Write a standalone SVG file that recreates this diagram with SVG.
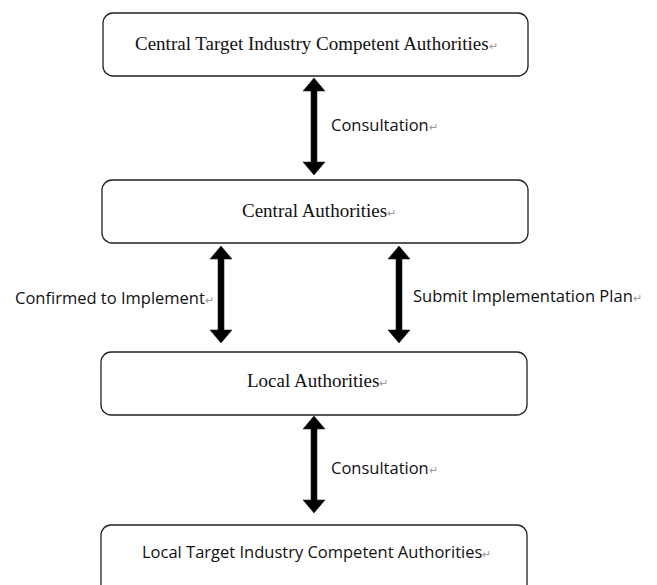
<svg xmlns="http://www.w3.org/2000/svg" width="657" height="585" viewBox="0 0 657 585">
<style>
.box{fill:#fff;stroke:#222;stroke-width:1.3}
.serif{font-family:"Liberation Serif","Times New Roman",serif;font-size:19px;fill:#111}
.sans{font-family:"Open Sans","Noto Sans",sans-serif;font-size:16.5px;fill:#111}
.pm{fill:#9a9a9a;font-size:11px}
.arrow{fill:#000;stroke:#1a2a3a;stroke-width:0.6}
</style>
<defs>
<path id="dbl" d="M0,0 L11,13 L3,13 L3,84 L11,84 L0,97 L-11,84 L-3,84 L-3,13 L-11,13 Z"/>
</defs>
<rect width="657" height="585" fill="#fff"/>
<g id="connectors">
<use href="#dbl" class="arrow" x="314" y="78"/>
<use href="#dbl" class="arrow" x="221" y="246"/>
<use href="#dbl" class="arrow" x="399" y="246"/>
<use href="#dbl" class="arrow" x="314" y="416"/>
<text class="sans" x="331" y="131">Consultation<tspan class="pm">↵</tspan></text>
<text class="sans" x="15" y="304">Confirmed to Implement<tspan class="pm">↵</tspan></text>
<text class="sans" x="413" y="302">Submit Implementation Plan<tspan class="pm">↵</tspan></text>
<text class="sans" x="331" y="474">Consultation<tspan class="pm">↵</tspan></text>
</g>
<g id="central-target">
<rect class="box" x="103" y="13" width="425" height="63" rx="10"/>
<text class="serif" x="135" y="50">Central Target Industry Competent Authorities<tspan class="pm">↵</tspan></text>
</g>
<g id="central">
<rect class="box" x="102" y="180" width="426" height="63" rx="10"/>
<text class="serif" x="242" y="217">Central Authorities<tspan class="pm">↵</tspan></text>
</g>
<g id="local">
<rect class="box" x="101" y="352" width="426" height="63" rx="10"/>
<text class="serif" x="247" y="387">Local Authorities<tspan class="pm">↵</tspan></text>
</g>
<g id="local-target">
<rect class="box" x="101" y="525" width="426" height="70" rx="10"/>
<text class="sans" x="142" y="558">Local Target Industry Competent Authorities<tspan class="pm">↵</tspan></text>
</g>
</svg>
